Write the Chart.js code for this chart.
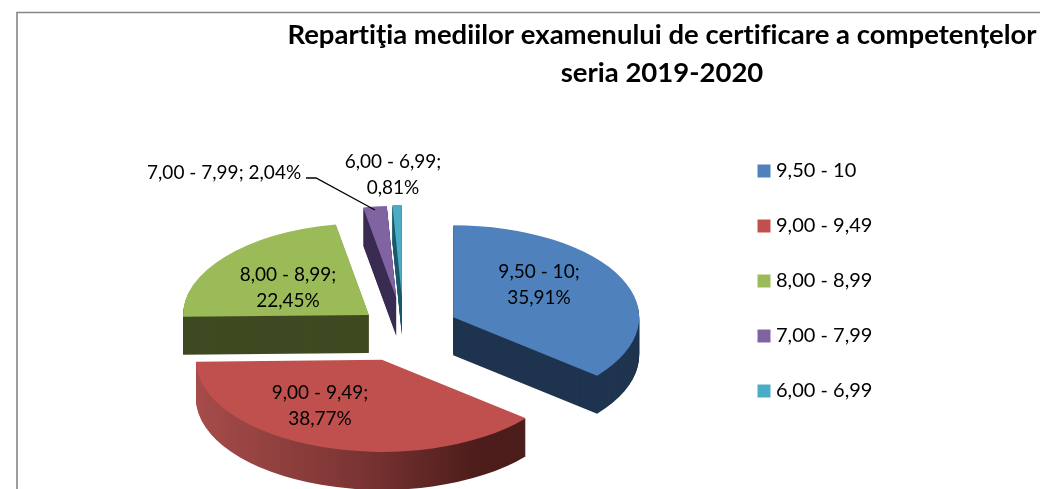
<!DOCTYPE html>
<html><head><meta charset="utf-8">
<style>html,body{margin:0;padding:0;background:#fff}canvas{display:block}</style>
<script src="https://cdn.jsdelivr.net/npm/chart.js@4"></script>
</head><body><canvas id="c" width="1040" height="489"></canvas>
<script>
const categories = ['9,50 - 10','9,00 - 9,49','8,00 - 8,99','7,00 - 7,99','6,00 - 6,99'];
const shares = [35.91,38.77,22.45,2.04,0.81];
const titleLines = ['Repartiţia mediilor examenului de certificare a competențelor','seria 2019-2020'];
const topColors = ['#4f81bd','#c0504d','#9bbb59','#8064a2','#4bacc6'];
const sideColors = ['#1f344f',null,'#3f4a22','#3a2c52','#1d5b6b'];
const explode = [55,66,44.6,63,64.6];
const drawOrder = [2,3,4,0,1];
const labelAnchors = [[539,272,298],[320,393,419],[288,275,301],[393,162,188]];
const FONT = 'Lato';
const view = {cx:403.5, cy:329, squash:0.495, depth:38};

const fmt = i => shares[i].toFixed(2).replace('.',',') + '%';

const pie3d = {
  id:'pie3d',
  beforeDraw(chart){
    const c = chart.ctx;
    if('letterSpacing' in c) c.letterSpacing='0.01px';
    c.save();
    c.strokeStyle='#868686'; c.lineWidth=1.6;
    c.beginPath(); c.moveTo(17,489); c.lineTo(17,12.5); c.lineTo(1040,12.5); c.stroke();
    c.restore();
  },
  afterLayout(chart){
    const t = chart.titleBlock;
    t.left = 280; t.right = 1044; t.width = 764; t.top = 16;
    const l = chart.legend;
    l.left = 727; l.right = 1000; l.top = 126; l.bottom = 480;
  },
  beforeDatasetDraw(chart,args){
    const c = chart.ctx;
    const arcs = chart.getDatasetMeta(args.index).data;
    const place = (arc,i,dy)=>{
      const mid = (arc.startAngle+arc.endAngle)/2;
      c.translate(view.cx, view.cy+dy);
      c.scale(1,view.squash);
      c.translate(-arc.x,-arc.y);
      c.translate(Math.cos(mid)*explode[i],Math.sin(mid)*explode[i]);
    };
    for(const i of drawOrder){
      const arc = arcs[i], o = arc.options;
      let side = sideColors[i];
      if(!side){
        side = c.createLinearGradient(arc.x-186,0,arc.x+144,0);
        side.addColorStop(0,'#a64c4a'); side.addColorStop(0.5,'#7a3433');
        side.addColorStop(0.85,'#4d1d1b'); side.addColorStop(1,'#4a1c1a');
      }
      arc.options = Object.assign({},o,{backgroundColor:side});
      for(let s=view.depth;s>=1;s--){
        c.save(); place(arc,i,s); arc.draw(c); c.restore();
      }
      arc.options = o;
      c.save(); place(arc,i,0); arc.draw(c); c.restore();
    }
    return false;
  },
  afterDatasetsDraw(chart){
    const c = chart.ctx;
    c.save();
    c.fillStyle='#000'; c.font='19px '+FONT; c.textAlign='center'; c.textBaseline='middle';
    [0,1,2,4].forEach((i,n)=>{
      const a = labelAnchors[n];
      c.fillText(categories[i]+';',a[0],a[1]);
      c.fillText(fmt(i),a[0],a[2]);
    });
    c.textAlign='left';
    c.fillText(categories[3]+'; '+fmt(3),147,173);
    c.strokeStyle='#000'; c.lineWidth=1.3;
    c.beginPath(); c.moveTo(306,178); c.lineTo(316,178); c.lineTo(375,210); c.stroke();
    c.restore();
  }
};

new Chart(document.getElementById('c'),{
  type:'pie',
  data:{labels:categories,datasets:[{data:shares,backgroundColor:topColors,borderWidth:0,radius:186,clip:false}]},
  plugins:[pie3d],
  options:{
    responsive:false,animation:false,events:[],
    plugins:{
      title:{display:true,text:titleLines,color:'#000',padding:0,align:'center',
        font:{family:FONT,weight:'bold',size:27.5,lineHeight:1.38}},
      tooltip:{enabled:false},
      legend:{display:true,position:'right',align:'start',
        labels:{boxWidth:4,boxHeight:4,padding:35,color:'#000',font:{family:FONT,size:20},
          generateLabels(chart){
            return Chart.overrides.pie.plugins.legend.labels.generateLabels(chart)
              .map(l=>Object.assign(l,{lineWidth:9,strokeStyle:l.fillStyle}));
          }}}
    }
  }
});
</script></body></html>
